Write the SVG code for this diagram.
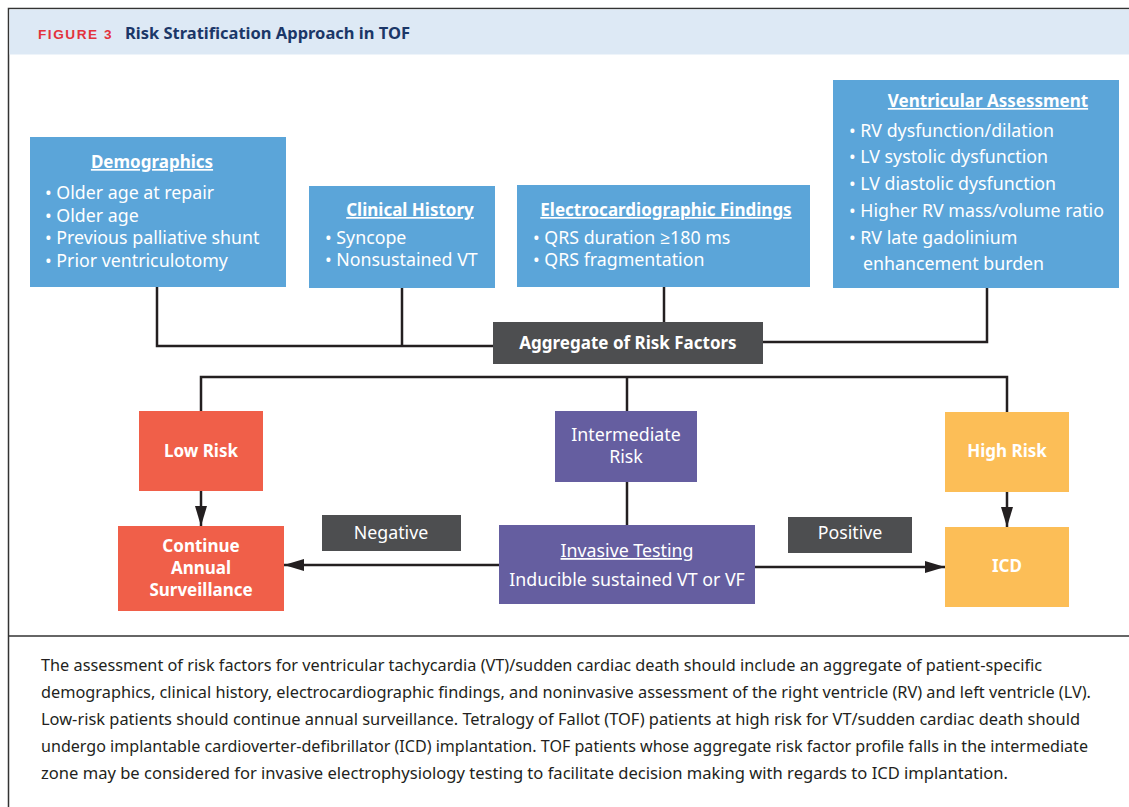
<svg xmlns="http://www.w3.org/2000/svg" width="1129" height="807" viewBox="0 0 1129 807">
<defs>
<style>
.box{fill:#5ba5d9}
.t{font-family:"Noto Sans","Open Sans",sans-serif;fill:#fff}
.h{font-weight:bold;font-size:17px;text-decoration:underline}
.b{font-size:17.8px}
.lbl{font-family:"Noto Sans","Open Sans",sans-serif;font-weight:bold;font-size:17px;fill:#fff}
.ln{stroke:#231f20;stroke-width:2.5;fill:none}
.cap{font-family:"Noto Sans","Open Sans",sans-serif;font-size:15.5px;fill:#231f20}
</style>
<marker id="ah" viewBox="0 0 20 12" refX="20" refY="6" markerWidth="20" markerHeight="12" markerUnits="userSpaceOnUse" orient="auto">
<path d="M0,0 L20,6 L0,12 z" fill="#231f20"/>
</marker>
</defs>
<rect x="0" y="0" width="1129" height="807" fill="#fff"/>
<g id="frame">
<rect x="8.5" y="8.5" width="1130" height="810" fill="none" stroke="#333" stroke-width="1.5"/>
<rect x="9.5" y="9.5" width="1120" height="45" fill="#dde9f5"/>
<line x1="8" y1="636" x2="1129" y2="636" stroke="#333" stroke-width="1.5"/>
<text x="38" y="39" font-family="'Liberation Sans',Arial,sans-serif" font-weight="bold" font-size="13.5" fill="#e3323c" letter-spacing="1.5" textLength="75" lengthAdjust="spacingAndGlyphs">FIGURE 3</text>
<text x="125" y="39" font-family="'Noto Sans','Liberation Sans',sans-serif" font-weight="bold" font-size="16" fill="#1b3768" textLength="285" lengthAdjust="spacingAndGlyphs">Risk Stratification Approach in TOF</text>
</g>
<g id="connectors">
<polyline class="ln" points="157,287 157,346 493,346"/>
<line class="ln" x1="402" y1="288" x2="402" y2="346"/>
<line class="ln" x1="664" y1="287" x2="664" y2="322"/>
<polyline class="ln" points="987,288 987,342 763,342"/>
<polyline class="ln" points="201,411 201,377 1007,377 1007,412"/>
<line class="ln" x1="627" y1="377" x2="627" y2="411"/>
<line class="ln" x1="201" y1="491" x2="201" y2="526" marker-end="url(#ah)"/>
<line class="ln" x1="1007" y1="492" x2="1007" y2="527" marker-end="url(#ah)"/>
<line class="ln" x1="627" y1="482" x2="627" y2="525"/>
<line class="ln" x1="499" y1="565" x2="284" y2="565" marker-end="url(#ah)"/>
<line class="ln" x1="755" y1="567" x2="945" y2="567" marker-end="url(#ah)"/>
</g>
<g id="demographics">
<rect class="box" x="30" y="137" width="256" height="150"/>
<text class="t h" x="152" y="168" text-anchor="middle">Demographics</text>
<text class="t b" x="45" y="199">• Older age at repair</text>
<text class="t b" x="45" y="222">• Older age</text>
<text class="t b" x="45" y="244">• Previous palliative shunt</text>
<text class="t b" x="45" y="267">• Prior ventriculotomy</text>
</g>
<g id="clinical-history">
<rect class="box" x="309" y="186" width="186" height="102"/>
<text class="t h" x="410" y="216" text-anchor="middle">Clinical History</text>
<text class="t b" x="325" y="244">• Syncope</text>
<text class="t b" x="325" y="266">• Nonsustained VT</text>
</g>
<g id="ecg-findings">
<rect class="box" x="517" y="185" width="293" height="102"/>
<text class="t h" x="666" y="216" text-anchor="middle">Electrocardiographic Findings</text>
<text class="t b" x="533" y="244">• QRS duration ≥180 ms</text>
<text class="t b" x="533" y="266">• QRS fragmentation</text>
</g>
<g id="ventricular-assessment">
<rect class="box" x="833" y="80" width="286" height="208"/>
<text class="t h" x="988" y="107" text-anchor="middle">Ventricular Assessment</text>
<text class="t b" x="849" y="137">• RV dysfunction/dilation</text>
<text class="t b" x="849" y="163">• LV systolic dysfunction</text>
<text class="t b" x="849" y="190">• LV diastolic dysfunction</text>
<text class="t b" x="849" y="217">• Higher RV mass/volume ratio</text>
<text class="t b" x="849" y="244">• RV late gadolinium</text>
<text class="t b" x="863" y="270">enhancement burden</text>
</g>
<g id="aggregate">
<rect x="493" y="322" width="270" height="42" fill="#4d4e50"/>
<text class="lbl" x="628" y="349" text-anchor="middle">Aggregate of Risk Factors</text>
</g>
<g id="low-risk">
<rect x="139" y="411" width="124" height="80" fill="#f05f49"/>
<text class="lbl" x="201" y="457" text-anchor="middle">Low Risk</text>
</g>
<g id="intermediate-risk">
<rect x="555" y="411" width="142" height="71" fill="#655ea0"/>
<text class="t b" x="626" y="441" text-anchor="middle">Intermediate</text>
<text class="t b" x="626" y="463" text-anchor="middle">Risk</text>
</g>
<g id="high-risk">
<rect x="945" y="412" width="124" height="80" fill="#fcbe57"/>
<text class="lbl" x="1007" y="457" text-anchor="middle">High Risk</text>
</g>
<g id="continue-surveillance">
<rect x="118" y="526" width="166" height="85" fill="#f05f49"/>
<text class="lbl" x="201" y="552" text-anchor="middle">Continue</text>
<text class="lbl" x="201" y="574" text-anchor="middle">Annual</text>
<text class="lbl" x="201" y="596" text-anchor="middle">Surveillance</text>
</g>
<g id="negative">
<rect x="322" y="515" width="139" height="36" fill="#4d4e50"/>
<text class="t b" x="391" y="539" text-anchor="middle">Negative</text>
</g>
<g id="invasive-testing">
<rect x="499" y="525" width="256" height="79" fill="#655ea0"/>
<text class="t b" x="627" y="557" text-anchor="middle" text-decoration="underline">Invasive Testing</text>
<text class="t b" x="627" y="586" text-anchor="middle">Inducible sustained VT or VF</text>
</g>
<g id="positive">
<rect x="788" y="517" width="124" height="36" fill="#4d4e50"/>
<text class="t b" x="850" y="539" text-anchor="middle">Positive</text>
</g>
<g id="icd">
<rect x="945" y="527" width="124" height="80" fill="#fcbe57"/>
<text class="lbl" x="1007" y="572" text-anchor="middle">ICD</text>
</g>
<g id="caption">
<text class="cap" x="41" y="671" textLength="1001" lengthAdjust="spacingAndGlyphs">The assessment of risk factors for ventricular tachycardia (VT)/sudden cardiac death should include an aggregate of patient-specific</text>
<text class="cap" x="41" y="698" textLength="1050" lengthAdjust="spacingAndGlyphs">demographics, clinical history, electrocardiographic findings, and noninvasive assessment of the right ventricle (RV) and left ventricle (LV).</text>
<text class="cap" x="41" y="725" textLength="1039" lengthAdjust="spacingAndGlyphs">Low-risk patients should continue annual surveillance. Tetralogy of Fallot (TOF) patients at high risk for VT/sudden cardiac death should</text>
<text class="cap" x="41" y="752" textLength="1047" lengthAdjust="spacingAndGlyphs">undergo implantable cardioverter-defibrillator (ICD) implantation. TOF patients whose aggregate risk factor profile falls in the intermediate</text>
<text class="cap" x="41" y="779" textLength="967" lengthAdjust="spacingAndGlyphs">zone may be considered for invasive electrophysiology testing to facilitate decision making with regards to ICD implantation.</text>
</g>
</svg>
